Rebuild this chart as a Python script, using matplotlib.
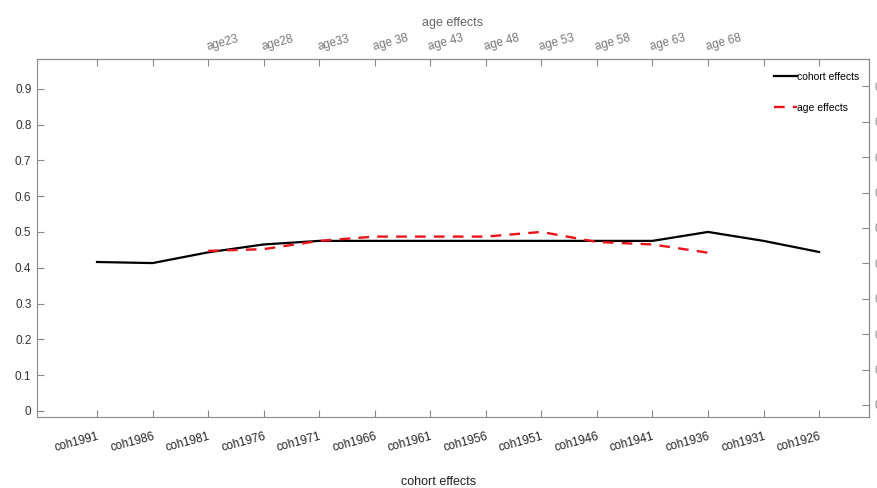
import matplotlib.pyplot as plt

plt.rcParams['font.family'] = ['Liberation Sans', 'DejaVu Sans']

cohorts = ['coh1991', 'coh1986', 'coh1981', 'coh1976', 'coh1971', 'coh1966', 'coh1961',
           'coh1956', 'coh1951', 'coh1946', 'coh1941', 'coh1936', 'coh1931', 'coh1926']
age_labels = ['', '', 'age23', 'age28', 'age33', 'age 38', 'age 43', 'age 48',
              'age 53', 'age 58', 'age 63', 'age 68', '', '']
cohort_effects = [0.416, 0.413, 0.443, 0.465, 0.475, 0.475, 0.475,
                  0.475, 0.475, 0.475, 0.475, 0.500, 0.475, 0.444]
# age effects only exist for age23 .. age68 (positions 3..12)
age_pos = [3, 4, 5, 6, 7, 8, 9, 10, 11, 12]
age_effects = [0.447, 0.452, 0.475, 0.487, 0.487, 0.487, 0.500, 0.472, 0.465, 0.442]
yticks = [0, 0.1, 0.2, 0.3, 0.4, 0.5, 0.6, 0.7, 0.8, 0.9]

pos = list(range(1, len(cohorts) + 1))

fig = plt.figure(figsize=(8.77, 4.88), dpi=100)
ax = fig.add_axes([0.0422, 0.1455, 0.9488, 0.7335])

ax.plot(pos, cohort_effects, color='black', lw=1.6, label='cohort effects')
ax.plot(age_pos, age_effects, color='#e8141a', lw=1.7, dashes=(4.5, 3.5), label='age effects')

ax.set_xlim(-0.08, 14.9)
ax.set_ylim(-0.017, 0.983)
ax.set_yticks(yticks)
ax.set_yticklabels([f'{v:g}' for v in yticks])
ax.set_xticks(pos)
ax.set_xticklabels(cohorts, rotation=15, ha='right', rotation_mode='anchor')

spine_col = '#8a8a8a'
for s in ax.spines.values():
    s.set_color(spine_col)
ax.tick_params(axis='both', direction='in', length=5, color=spine_col)
ax.tick_params(axis='y', labelsize=8.5, labelcolor='#333333', pad=4)
ax.tick_params(axis='x', labelsize=8.5, labelcolor='#222222', pad=10)

# top axis: age labels
top = ax.secondary_xaxis('top')
top.set_xticks(pos)
top.set_xticklabels(age_labels, rotation=15, ha='left', rotation_mode='anchor')
top.tick_params(direction='in', length=5, color=spine_col, labelsize=8.5,
                labelcolor='#777777', pad=4)
top.spines['top'].set_color(spine_col)
top.set_xlabel('age effects', fontsize=9, color='#666666', labelpad=5)

# right axis, labels fall mostly off the figure edge as in the source image
right = ax.secondary_yaxis('right', functions=(lambda y: (y * 358 - 6) / 354,
                                                lambda r: (r * 354 + 6) / 358))
right.set_yticks(yticks)
right.set_yticklabels([f'{v:g}' for v in yticks])
right.tick_params(direction='in', length=5, color=spine_col, labelsize=8.5,
                  labelcolor='#888888', pad=4)
right.spines['right'].set_color(spine_col)

ax.set_xlabel('cohort effects', fontsize=9, color='#222222')
ax.xaxis.set_label_coords(0.482, -0.165)

ax.legend(loc='upper right', bbox_to_anchor=(1.0, 0.99), frameon=False, fontsize=7.5,
          handlelength=2.3, handletextpad=0.0, labelspacing=2.0)

fig.savefig('out.png', dpi=100)
